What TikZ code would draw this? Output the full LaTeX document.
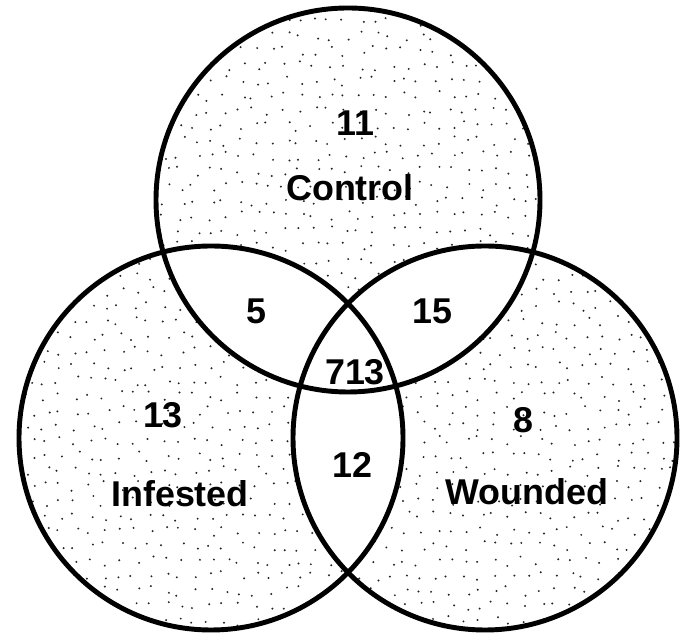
\documentclass[tikz,border=0pt]{standalone}
\usepackage{fontspec}
\setmainfont{Liberation Sans}

\begin{document}
\begin{tikzpicture}[x=0.025cm, y=0.025cm,
	every node/.style={font=\bfseries\fontsize{25.5}{30}\selectfont, inner sep=0pt},
	ring/.style={line width=3.5pt},
	stipple/.style={black!85}]
	\useasboundingbox (0,0) rectangle (689,636);
	\def\rad{192}
	\coordinate (ctl) at (348,436);
	\coordinate (inf) at (211,198);
	\coordinate (wnd) at (485,198);
	% dotted fill over the three discs
	\begin{scope}
		\clip (ctl) circle (\rad) (inf) circle (\rad) (wnd) circle (\rad);
		\pgfmathsetseed{11}
		\foreach \x in {0,15,...,689}
			\foreach \y in {0,15,...,636}
				\fill[stipple] ({\x+5*rand},{\y+5*rand}) circle (1.1);
	\end{scope}
	% overlaps stay blank
	\begin{scope}
		\clip (ctl) circle (\rad);
		\fill[white] (inf) circle (\rad) (wnd) circle (\rad);
	\end{scope}
	\begin{scope}
		\clip (inf) circle (\rad);
		\fill[white] (wnd) circle (\rad);
	\end{scope}
	\draw[ring] (ctl) circle (\rad) (inf) circle (\rad) (wnd) circle (\rad);
	% counts and labels
	\node (nctl) at (355,513) {11};
	\node (lctl) at (350,448) {Control};
	\node (nci) at (256,325) {5};
	\node (ncw) at (432,325) {15};
	\node (nall) at (355,264) {713};
	\node (ninf) at (163,221) {13};
	\node (nwnd) at (523,216) {8};
	\node (niw) at (352,171) {12};
	\node (linf) at (180,142) {Infested};
	\node (lwnd) at (527,144) {Wounded};
\end{tikzpicture}
\end{document}
